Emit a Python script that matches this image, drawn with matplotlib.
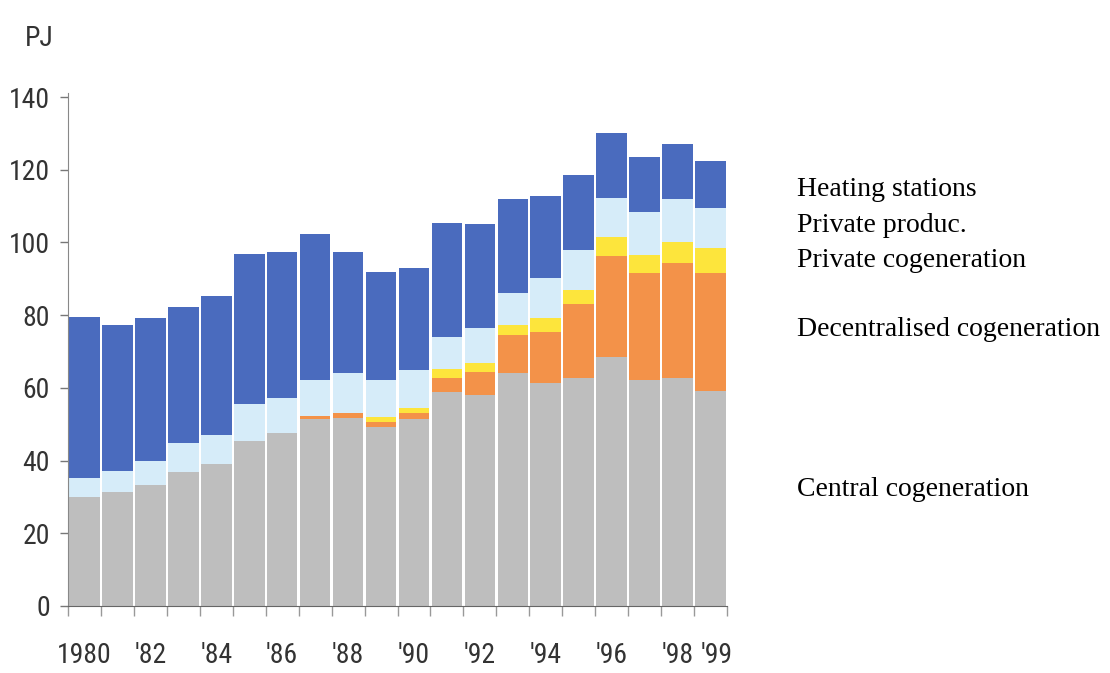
import matplotlib
matplotlib.use("Agg")
import matplotlib.pyplot as plt
import numpy as np

years = list(range(1980, 2000))
tick_labels = ["1980", "", "'82", "", "'84", "", "'86", "", "'88", "", "'90", "",
               "'92", "", "'94", "", "'96", "", "'98", "'99"]

central = [30.1, 31.4, 33.3, 36.9, 39.0, 45.5, 47.5, 51.3, 51.8, 49.1,
           51.3, 58.9, 58.0, 64.0, 61.2, 62.6, 68.6, 62.2, 62.6, 59.2]
decentral = [0, 0, 0, 0, 0, 0, 0, 1.0, 1.3, 1.6,
             1.7, 3.7, 6.4, 10.5, 14.3, 20.5, 27.7, 29.3, 31.8, 32.5]
private_cogen = [0, 0, 0, 0, 0, 0, 0, 0, 0, 1.2,
                 1.4, 2.5, 2.3, 2.8, 3.6, 3.8, 5.1, 5.0, 5.7, 6.7]
private_produc = [5.1, 5.7, 6.6, 7.9, 8.0, 10.0, 9.8, 9.9, 10.9, 10.3,
                  10.6, 9.0, 9.9, 8.9, 11.0, 11.0, 10.7, 12.0, 11.9, 11.0]
heating = [44.3, 40.2, 39.3, 37.4, 38.3, 41.3, 40.1, 40.1, 33.4, 29.6,
           28.0, 31.3, 28.6, 25.7, 22.8, 20.6, 17.9, 14.9, 15.2, 12.9]

series = [
    ("Central cogeneration", central, "#bebebe"),
    ("Decentralised cogeneration", decentral, "#f39249"),
    ("Private cogeneration", private_cogen, "#fde53c"),
    ("Private produc.", private_produc, "#d6ecf9"),
    ("Heating stations", heating, "#4a6bbe"),
]

fig = plt.figure(figsize=(11.10, 6.73), dpi=100)
ax = fig.add_axes([68 / 1110, (673 - 606) / 673, (727 - 68) / 1110, (606 - 97) / 673])

x = np.arange(len(years))
bottom = np.zeros(len(years))
for name, vals, col in series:
    v = np.array(vals, dtype=float)
    ax.bar(x, v, bottom=bottom, width=0.93, color=col, edgecolor="none", label=name)
    bottom += v

ax.set_xlim(-0.47, len(years) - 0.53)
ax.set_ylim(0, 140)

label_font = ["Roboto Condensed", "Liberation Sans", "DejaVu Sans"]
ax.set_yticks(np.arange(0, 141, 20))
ax.set_yticklabels([str(v) for v in range(0, 141, 20)], fontsize=20, family=label_font, color="#333333")
ax.tick_params(axis="y", length=6, width=1, color="#777777", pad=7)

ax.set_xticks(list(x - 0.5) + [len(years) - 0.5])
ax.set_xticklabels([""] * (len(years) + 1))
ax.tick_params(axis="x", length=7, width=1, color="#999999")
label_shift = {"'99": 0.18}
for i, lab in enumerate(tick_labels):
    if lab:
        ax.text(i + label_shift.get(lab, 0), -13.5, lab, ha="center", va="center", fontsize=20,
                family=label_font, color="#333333")

for s in ["top", "right"]:
    ax.spines[s].set_visible(False)
ax.spines["left"].set_color("#888888")
ax.spines["bottom"].set_color("#666666")
ax.spines["left"].set_bounds(0, 141)

fig.text(25 / 1110, 1 - 38 / 673, "PJ", fontsize=20, family=label_font,
         color="#333333", ha="left", va="center")

legend_font = ["Liberation Serif", "DejaVu Serif"]
legend_items = [
    ("Heating stations", 190),
    ("Private produc.", 226),
    ("Private cogeneration", 261),
    ("Decentralised cogeneration", 329),
    ("Central cogeneration", 490),
]
for txt, ypix in legend_items:
    fig.text(797 / 1110, 1 - ypix / 673, txt, fontsize=20, family=legend_font,
             color="black", ha="left", va="center")

fig.savefig("out.png", dpi=100)
